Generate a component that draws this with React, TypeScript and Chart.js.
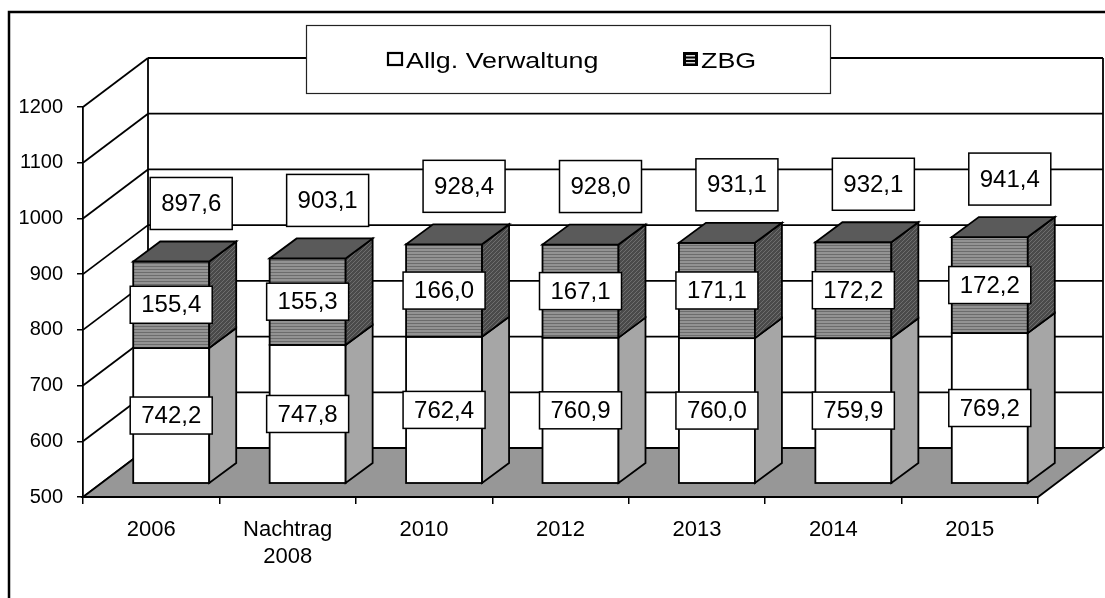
import React, { useEffect, useRef } from 'react';
import { Chart, registerables } from 'chart.js';

Chart.register(...registerables);

// ---- data ----
const categories: (string | string[])[] = ['2006', ['Nachtrag', '2008'], '2010', '2012', '2013', '2014', '2015'];
const allgVerwaltung = [742.2, 747.8, 762.4, 760.9, 760.0, 759.9, 769.2];
const zbg = [155.4, 155.3, 166.0, 167.1, 171.1, 172.2, 172.2];
const totals = [897.6, 903.1, 928.4, 928.0, 931.1, 932.1, 941.4];
const seriesNames = ['Allg. Verwaltung', 'ZBG'];
const yMin = 500;
const yMax = 1200;
const yStep = 100;

// ---- styling constants (3D projection) ----
const FONT = 'Arial, "Liberation Sans", sans-serif';
const BACK_DX = 65;
const BACK_DY = -49;
const FACE_DX = 20;
const FACE_DY = -14;
const DEPTH_DX = 27;
const DEPTH_DY = -20;

function fmt(v: number): string {
  return v.toFixed(1).replace('.', ',');
}

function makePattern(ctx: CanvasRenderingContext2D, w: number, h: number, draw: (c: CanvasRenderingContext2D) => void) {
  const c = document.createElement('canvas');
  c.width = w;
  c.height = h;
  const cc = c.getContext('2d')!;
  draw(cc);
  return ctx.createPattern(c, 'repeat')!;
}

export default function App() {
  const ref = useRef<HTMLCanvasElement>(null);

  useEffect(() => {
    const canvas = ref.current!;
    const ctx0 = canvas.getContext('2d')!;

    const stripe = makePattern(ctx0, 4, 3, (c) => {
      c.fillStyle = '#939393';
      c.fillRect(0, 0, 4, 3);
      c.fillStyle = '#6c6c6c';
      c.fillRect(0, 2, 4, 1);
    });
    const hatch = makePattern(ctx0, 4, 4, (c) => {
      c.fillStyle = '#4a4a4a';
      c.fillRect(0, 0, 4, 4);
      c.fillStyle = '#6e6e6e';
      for (let i = 0; i < 4; i++) c.fillRect(i, 3 - i, 1, 1);
    });

    const line = (ctx: CanvasRenderingContext2D, pts: number[][]) => {
      ctx.beginPath();
      ctx.moveTo(pts[0][0], pts[0][1]);
      for (let i = 1; i < pts.length; i++) ctx.lineTo(pts[i][0], pts[i][1]);
    };

    const labelBox = (ctx: CanvasRenderingContext2D, cx: number, cy: number, w: number, h: number, text: string) => {
      ctx.fillStyle = '#fff';
      ctx.fillRect(cx - w / 2, cy - h / 2, w, h);
      ctx.strokeStyle = '#000';
      ctx.lineWidth = 1.5;
      ctx.strokeRect(cx - w / 2, cy - h / 2, w, h);
      ctx.fillStyle = '#000';
      ctx.font = `24px ${FONT}`;
      ctx.textAlign = 'center';
      ctx.textBaseline = 'middle';
      ctx.fillText(text, cx, cy + 1);
    };

    const threeD = {
      id: 'threeD',
      beforeDraw(chart: any) {
        const ctx = chart.ctx;
        ctx.save();
        ctx.fillStyle = '#fff';
        ctx.fillRect(0, 0, chart.width, chart.height);
        ctx.restore();
      },
      beforeDatasetsDraw(chart: any) {
        const { ctx, chartArea: ca, scales } = chart;
        const y = scales.y;
        ctx.save();
        ctx.strokeStyle = '#000';
        ctx.lineWidth = 1.8;
        const bottom = y.getPixelForValue(yMin);
        const top = y.getPixelForValue(yMax);
        y.ticks.forEach((t: any) => {
          const py = y.getPixelForValue(t.value);
          line(ctx, [[ca.left + BACK_DX, py + BACK_DY], [ca.right + BACK_DX, py + BACK_DY]]);
          ctx.stroke();
          line(ctx, [[ca.left, py], [ca.left + BACK_DX, py + BACK_DY]]);
          ctx.stroke();
        });
        line(ctx, [[ca.left + BACK_DX, top + BACK_DY], [ca.left + BACK_DX, bottom + BACK_DY]]);
        ctx.stroke();
        line(ctx, [[ca.right + BACK_DX, top + BACK_DY], [ca.right + BACK_DX, bottom + BACK_DY]]);
        ctx.stroke();
        line(ctx, [
          [ca.left, bottom],
          [ca.right, bottom],
          [ca.right + BACK_DX, bottom + BACK_DY],
          [ca.left + BACK_DX, bottom + BACK_DY],
        ]);
        ctx.closePath();
        ctx.fillStyle = '#979797';
        ctx.fill();
        ctx.stroke();
        ctx.restore();
      },
      afterDatasetsDraw(chart: any) {
        const { ctx, scales } = chart;
        const y = scales.y;
        const bottom = y.getPixelForValue(yMin);
        const m0 = chart.getDatasetMeta(0);
        const m1 = chart.getDatasetMeta(1);
        ctx.save();
        ctx.strokeStyle = '#000';
        ctx.lineWidth = 1.8;
        ctx.lineJoin = 'miter';
        const seg = (xl: number, xr: number, yt: number, yb: number, front: any, side: any) => {
          ctx.fillStyle = front;
          ctx.fillRect(xl, yt, xr - xl, yb - yt);
          ctx.strokeRect(xl, yt, xr - xl, yb - yt);
          line(ctx, [[xr, yt], [xr + DEPTH_DX, yt + DEPTH_DY], [xr + DEPTH_DX, yb + DEPTH_DY], [xr, yb]]);
          ctx.closePath();
          ctx.fillStyle = side;
          ctx.fill();
          ctx.stroke();
        };
        const faces: any[] = [];
        for (let i = 0; i < categories.length; i++) {
          const e0 = m0.data[i];
          const e1 = m1.data[i];
          const w = e0.width;
          const xl = e0.x - w / 2 + FACE_DX;
          const xr = xl + w;
          const y0b = Math.min(e0.base, bottom) + FACE_DY;
          const y0t = e0.y + FACE_DY;
          const y1b = e1.base + FACE_DY;
          const y1t = e1.y + FACE_DY;
          seg(xl, xr, y0t, y0b, '#fff', '#a6a6a6');
          seg(xl, xr, y1t, y1b, stripe, hatch);
          line(ctx, [[xl, y1t], [xr, y1t], [xr + DEPTH_DX, y1t + DEPTH_DY], [xl + DEPTH_DX, y1t + DEPTH_DY]]);
          ctx.closePath();
          ctx.fillStyle = '#5a5a5a';
          ctx.fill();
          ctx.stroke();
          faces.push({ cx: (xl + xr) / 2, y0t, y0b, y1t, y1b });
        }
        faces.forEach((f, i) => {
          labelBox(ctx, f.cx, (f.y0t + f.y0b) / 2, 82, 37, fmt(allgVerwaltung[i]));
          labelBox(ctx, f.cx, (f.y1t + f.y1b) / 2, 82, 37, fmt(zbg[i]));
          labelBox(ctx, f.cx + 20, f.y1t - 58, 82, 52, fmt(totals[i]));
        });
        ctx.restore();
      },
      afterDraw(chart: any) {
        const ctx = chart.ctx;
        ctx.save();
        ctx.fillStyle = '#fff';
        ctx.fillRect(306, 25, 524, 68);
        ctx.strokeStyle = '#222';
        ctx.lineWidth = 1.2;
        ctx.strokeRect(306.5, 25.5, 524, 68);
        ctx.fillStyle = '#fff';
        ctx.fillRect(388, 53, 14, 12);
        ctx.strokeStyle = '#000';
        ctx.lineWidth = 2.2;
        ctx.strokeRect(388, 53, 14, 12);
        ctx.fillStyle = '#000';
        ctx.fillRect(683, 52, 15, 14);
        ctx.fillStyle = '#ddd';
        ctx.fillRect(686, 55, 9, 1.5);
        ctx.fillRect(686, 58.5, 9, 1.5);
        ctx.fillRect(686, 62, 9, 1.5);
        ctx.fillStyle = '#000';
        ctx.font = `22px ${FONT}`;
        ctx.textAlign = 'left';
        ctx.textBaseline = 'alphabetic';
        const drawStretched = (t: string, x: number, yb: number) => {
          ctx.save();
          ctx.translate(x, yb);
          ctx.scale(1.22, 1);
          ctx.fillText(t, 0, 0);
          ctx.restore();
        };
        drawStretched(seriesNames[0], 406, 68);
        drawStretched(seriesNames[1], 701, 68);
        ctx.strokeStyle = '#000';
        ctx.lineWidth = 2.5;
        ctx.strokeRect(9, 12, 1300, 800);
        ctx.restore();
      },
    };

    const chart = new Chart(canvas, {
      type: 'bar',
      data: {
        labels: categories,
        datasets: [
          { label: seriesNames[0], data: allgVerwaltung, backgroundColor: 'rgba(0,0,0,0)', borderWidth: 0 },
          { label: seriesNames[1], data: zbg, backgroundColor: 'rgba(0,0,0,0)', borderWidth: 0 },
        ],
      },
      options: {
        animation: false,
        responsive: false,
        devicePixelRatio: 1,
        layout: { padding: { top: 107, right: 67, bottom: 0, left: 0 } },
        plugins: { legend: { display: false }, tooltip: { enabled: false } },
        datasets: { bar: { categoryPercentage: 1, barPercentage: 0.557 } },
        scales: {
          x: {
            stacked: true,
            afterFit: (s: any) => {
              s.height = 101;
            },
            grid: { drawOnChartArea: false, drawTicks: true, tickLength: 7, color: '#000', lineWidth: 1.5, offset: true },
            border: { display: true, color: '#000', width: 1.8 },
            ticks: { color: '#000', font: { family: FONT, size: 22 }, padding: 13, maxRotation: 0, autoSkip: false },
          },
          y: {
            stacked: true,
            min: yMin,
            max: yMax,
            afterFit: (s: any) => {
              s.width = 83;
            },
            grid: { drawOnChartArea: false, drawTicks: true, tickLength: 6, color: '#000', lineWidth: 1.5 },
            border: { display: true, color: '#000', width: 1.8 },
            ticks: {
              stepSize: yStep,
              color: '#000',
              font: { family: FONT, size: 20 },
              padding: 14,
              callback: (v: any) => String(v),
            },
          },
        },
      },
      plugins: [threeD],
    } as any);

    return () => chart.destroy();
  }, []);

  return (
    <div style={{ position: 'absolute', left: 0, top: 0, width: 1105, height: 598, background: '#fff' }}>
      <canvas ref={ref} width={1105} height={598} style={{ display: 'block', width: 1105, height: 598 }} />
    </div>
  );
}
